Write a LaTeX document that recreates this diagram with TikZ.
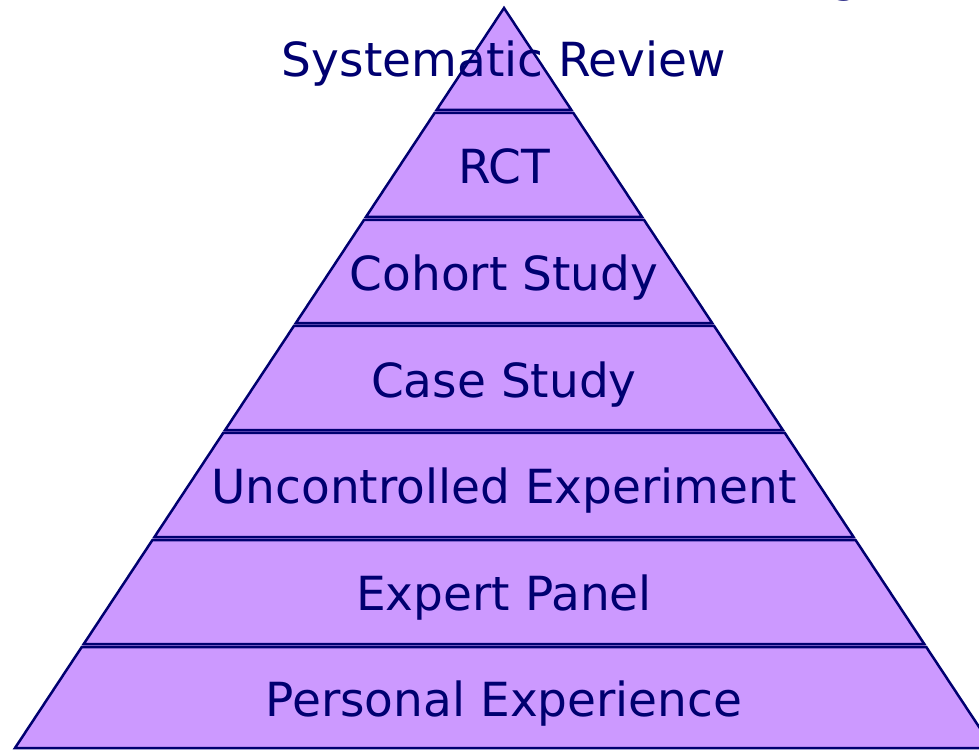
\documentclass[tikz,border=0pt]{standalone}
\usepackage{fontspec}
\setmainfont{DejaVu Sans}
\usetikzlibrary{calc}
\definecolor{band}{HTML}{CC99FF}
\definecolor{ink}{HTML}{000070}
\begin{document}
\begin{tikzpicture}[x=1pt,y=-1pt,
  bandshape/.style={fill=band,draw=ink,line width=2.5pt,line join=miter},
  tier/.style={text=ink,font=\fontsize{47}{52}\selectfont,anchor=base,inner sep=0pt}]
\useasboundingbox (0,0) rectangle (979,749);
\coordinate (A) at (504,8);
\coordinate (BL) at (15,748);
\coordinate (BR) at (993,748);
\begin{scope}
\clip (0,0) rectangle (979,749);
\fill[band] (A) -- (BL) -- (BR) -- cycle;
\draw[bandshape] (A) -- ($(A)!{(110-8)/740}!(BL)$) -- ($(A)!{(110-8)/740}!(BR)$) -- cycle;
\foreach \t/\b in {113/217,220/323,326/430,433/537,540/644,647/748} {
  \draw[bandshape] ($(A)!{(\t-8)/740}!(BL)$) -- ($(A)!{(\b-8)/740}!(BL)$)
     -- ($(A)!{(\b-8)/740}!(BR)$) -- ($(A)!{(\t-8)/740}!(BR)$) -- cycle;
}
\node[tier] (g) at (845,-8) {g};
\end{scope}
\node[tier] (sr) at (504,77) {Systematic Review};
\node[tier] (rct) at (504,183) {RCT};
\node[tier] (cohort) at (504,290) {Cohort Study};
\node[tier] (case) at (504,397) {Case Study};
\node[tier] (unc) at (504,503) {Uncontrolled Experiment};
\node[tier] (exp) at (504,610) {Expert Panel};
\node[tier] (pers) at (504,716) {Personal Experience};
\end{tikzpicture}
\end{document}
